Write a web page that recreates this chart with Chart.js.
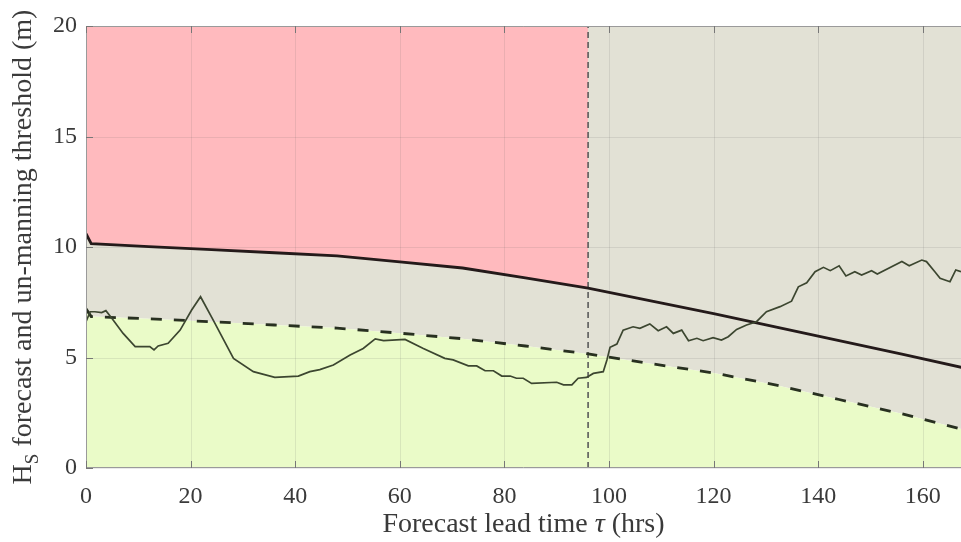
<!DOCTYPE html>
<html>
<head>
<meta charset="utf-8">
<script src="https://cdn.jsdelivr.net/npm/chart.js@4.4.1/dist/chart.umd.min.js"></script>
<style>
  body{margin:0;background:#fff;}
  canvas{display:block;}
</style>
</head>
<body>
<canvas id="grafico" width="961" height="542"></canvas>
<script>
// lead time grid of the two threshold curves (hrs)
const thrHours = [0, 1, 12, 24, 36, 48, 60, 72, 84, 96, 108, 120, 132, 144, 156, 168];
// solid: upper threshold, dashed: lower threshold (m)
const thrUpper = [10.6, 10.15, 10.02, 9.88, 9.74, 9.6, 9.33, 9.05, 8.6, 8.14, 7.56, 6.98, 6.37, 5.76, 5.15, 4.52];
const thrLower = [7.2, 6.85, 6.75, 6.62, 6.47, 6.33, 6.1, 5.85, 5.52, 5.16, 4.72, 4.3, 3.75, 3.1, 2.45, 1.72];

// Hs forecast
const waveHours = [0, 0.8, 1.7, 3.0, 3.8, 4.9, 7.1, 9.4, 12.2, 13.0, 13.8, 15.7, 18.0, 20.2, 21.9, 24.3, 28.2, 32.0, 36.1, 40.6,
  42.8, 44.7, 47.3, 50.5, 53.0, 55.3, 56.9, 61.0, 64.5, 68.6, 70.2, 73.1, 74.7, 76.3, 77.9, 79.5, 81.1, 82.3, 83.6, 85.2,
  90.0, 91.3, 92.9, 94.1, 95.7, 97.0, 98.9, 99.6, 100.2, 101.5, 102.7, 104.6, 105.9, 107.8, 109.4, 111.0, 112.3, 113.9, 115.2, 116.8,
  118.0, 119.9, 121.5, 122.8, 124.4, 126.3, 128.2, 130.1, 132.7, 134.9, 136.2, 137.8, 139.4, 141.0, 142.3, 144.0, 145.3, 147.0, 148.3, 150.2,
  151.3, 156.0, 157.4, 159.8, 160.7, 162.3, 163.3, 165.2, 166.3, 167.3];
const waveHs = [6.62, 7.07, 7.07, 7.03, 7.12, 6.79, 6.09, 5.49, 5.49, 5.34, 5.52, 5.64, 6.24, 7.15, 7.75, 6.70, 4.96, 4.36, 4.10, 4.16,
  4.36, 4.45, 4.66, 5.11, 5.41, 5.84, 5.76, 5.82, 5.41, 4.96, 4.89, 4.62, 4.62, 4.40, 4.40, 4.16, 4.16, 4.06, 4.06, 3.83,
  3.88, 3.76, 3.76, 4.06, 4.10, 4.28, 4.36, 4.89, 5.46, 5.61, 6.24, 6.39, 6.32, 6.52, 6.21, 6.39, 6.09, 6.24, 5.76, 5.87,
  5.76, 5.90, 5.79, 5.94, 6.27, 6.47, 6.62, 7.07, 7.30, 7.55, 8.20, 8.38, 8.88, 9.08, 8.93, 9.15, 8.69, 8.88, 8.73, 8.93,
  8.78, 9.34, 9.15, 9.41, 9.34, 8.88, 8.58, 8.43, 8.96, 8.88];

const cutoffHour = 96;
const xRange = [0, 167.3];
const yRange = [0, 20];
const xTicks = [0, 20, 40, 60, 80, 100, 120, 140, 160];
const yTicks = [0, 5, 10, 15, 20];

const pts = (xs, ys) => xs.map((x, i) => ({x: x, y: ys[i]}));
const redHours = thrHours.filter(h => h <= cutoffHour);

const serif = '"Liberation Serif", "DejaVu Serif", serif';
const textCol = '#3a3a3a';

const marco = {
  id: 'marco',
  afterDatasetDraw(chart, args){
    if(chart.data.datasets[args.index].label !== 'verde') return;
    const {ctx, chartArea: a, scales: {x, y}} = chart;
    ctx.save();
    ctx.strokeStyle = 'rgba(90,90,90,0.13)';
    ctx.lineWidth = 1;
    xTicks.forEach(t => {
      const px = Math.round(x.getPixelForValue(t)) + 0.5;
      ctx.beginPath(); ctx.moveTo(px, a.top); ctx.lineTo(px, a.bottom); ctx.stroke();
    });
    yTicks.forEach(t => {
      const py = Math.round(y.getPixelForValue(t)) + 0.5;
      ctx.beginPath(); ctx.moveTo(a.left, py); ctx.lineTo(a.right, py); ctx.stroke();
    });
    ctx.restore();
  },
  afterDraw(chart){
    const {ctx, chartArea: a, scales: {x, y}} = chart;
    ctx.save();
    ctx.strokeStyle = '#9a9a9a';
    ctx.lineWidth = 1;
    ctx.beginPath();
    ctx.moveTo(a.left + 0.5, a.top + 0.5); ctx.lineTo(a.right, a.top + 0.5);
    ctx.moveTo(a.left + 0.5, a.top); ctx.lineTo(a.left + 0.5, a.bottom);
    ctx.moveTo(a.left, a.bottom - 0.5); ctx.lineTo(a.right, a.bottom - 0.5);
    ctx.stroke();
    // ticks pointing inwards
    ctx.strokeStyle = '#777';
    xTicks.forEach(t => {
      const px = Math.round(x.getPixelForValue(t)) + 0.5;
      ctx.beginPath();
      ctx.moveTo(px, a.bottom); ctx.lineTo(px, a.bottom - 7);
      ctx.moveTo(px, a.top); ctx.lineTo(px, a.top + 7);
      ctx.stroke();
    });
    yTicks.forEach(t => {
      const py = Math.round(y.getPixelForValue(t)) + 0.5;
      ctx.beginPath(); ctx.moveTo(a.left, py); ctx.lineTo(a.left + 7, py); ctx.stroke();
    });

    ctx.fillStyle = textCol;
    ctx.textBaseline = 'alphabetic';
    ctx.textAlign = 'left';
    // x title with italic tau
    const big = '28px ' + serif;
    const it = 'italic 28px ' + serif;
    const p1 = 'Forecast lead time ', p2 = '\u03C4', p3 = ' (hrs)';
    ctx.font = big; const w1 = ctx.measureText(p1).width, w3 = ctx.measureText(p3).width;
    ctx.font = it; const w2 = ctx.measureText(p2).width;
    let sx = (a.left + a.right) / 2 - (w1 + w2 + w3) / 2;
    ctx.font = big; ctx.fillText(p1, sx, 532);
    ctx.font = it; ctx.fillText(p2, sx + w1, 532);
    ctx.font = big; ctx.fillText(p3, sx + w1 + w2, 532);

    // y title with subscript S
    const yt = '28px ' + serif, sub = '19px ' + serif;
    const h = 'H', s = 'S', rest = ' forecast and un-manning threshold (m)';
    ctx.font = yt; const wh = ctx.measureText(h).width, wr = ctx.measureText(rest).width;
    ctx.font = sub; const ws = ctx.measureText(s).width;
    ctx.translate(31, (a.top + a.bottom) / 2);
    ctx.rotate(-Math.PI / 2);
    let sy = -(wh + ws + wr) / 2;
    ctx.font = yt; ctx.fillText(h, sy, 0);
    ctx.font = sub; ctx.fillText(s, sy + wh, 7);
    ctx.font = yt; ctx.fillText(rest, sy + wh + ws, 0);
    ctx.restore();
  }
};

new Chart(document.getElementById('grafico'), {
  type: 'line',
  data: {
    datasets: [
      {label: 'cinza', data: pts(thrHours, thrLower), fill: 'end', backgroundColor: 'rgb(226,225,213)', borderWidth: 0, pointRadius: 0, order: 10},
      {label: 'vermelho', data: pts(redHours, thrUpper), fill: 'end', backgroundColor: 'rgb(255,186,190)', borderWidth: 0, pointRadius: 0, order: 9},
      {label: 'verde', data: pts(thrHours, thrLower), fill: 'origin', backgroundColor: 'rgb(234,251,200)', borderWidth: 0, pointRadius: 0, order: 8},
      {label: 'corte', data: [{x: cutoffHour, y: yRange[0]}, {x: cutoffHour, y: yRange[1]}], borderColor: '#5a5a5a', borderWidth: 1.6, borderDash: [6, 4], pointRadius: 0, fill: false, order: 4},
      {label: 'limiar sup', data: pts(thrHours, thrUpper), borderColor: '#241a1a', borderWidth: 2.8, pointRadius: 0, fill: false, order: 3},
      {label: 'limiar inf', data: pts(thrHours, thrLower), borderColor: '#283020', borderWidth: 2.8, borderDash: [11, 12], pointRadius: 0, fill: false, order: 2},
      {label: 'Hs', data: pts(waveHours, waveHs), borderColor: 'rgb(60,70,48)', borderWidth: 1.7, pointRadius: 0, fill: false, order: 1}
    ]
  },
  options: {
    responsive: false,
    animation: false,
    layout: {padding: {top: 26, right: 0, left: 0, bottom: 0}},
    plugins: {legend: {display: false}, tooltip: {enabled: false}},
    scales: {
      x: {
        type: 'linear', min: xRange[0], max: xRange[1],
        afterFit: s => { s.height = 74; },
        afterBuildTicks: s => { s.ticks = xTicks.map(v => ({value: v})); },
        grid: {display: false, drawTicks: false},
        border: {display: false},
        ticks: {font: {family: serif, size: 24}, color: textCol, padding: 14, maxRotation: 0}
      },
      y: {
        min: yRange[0], max: yRange[1],
        afterFit: s => { s.width = 86; },
        afterBuildTicks: s => { s.ticks = yTicks.map(v => ({value: v})); },
        grid: {display: false, drawTicks: false},
        border: {display: false},
        ticks: {font: {family: serif, size: 24}, color: textCol, padding: 9}
      }
    }
  },
  plugins: [marco]
});
</script>
</body>
</html>
